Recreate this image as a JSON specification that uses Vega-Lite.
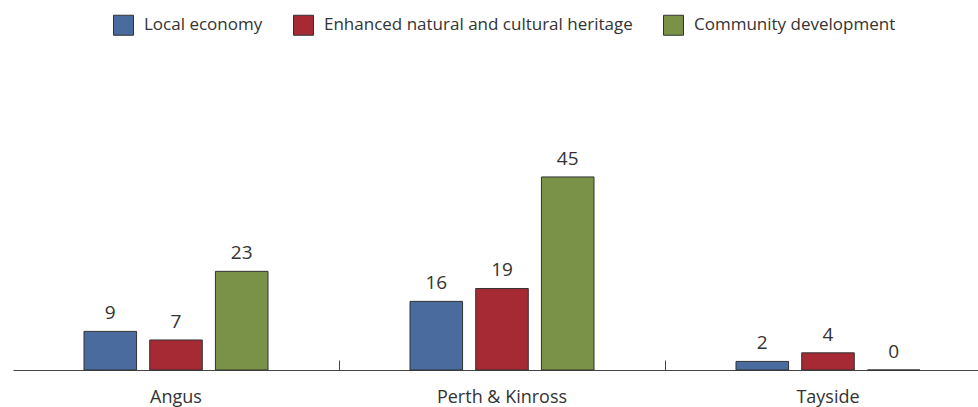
{
  "$schema": "https://vega.github.io/schema/vega-lite/v6.json",
  "autosize": "none",
  "width": 965,
  "height": 214.5,
  "padding": {"left": 13, "top": 155.5, "right": 0, "bottom": 37},
  "background": "white",
  "config": {
    "view": {"stroke": null},
    "font": "Open Sans",
    "text": {"font": "Open Sans"}
  },
  "data": {
    "values": [
      {"region": "Angus", "category": "Local economy", "value": 9},
      {"region": "Angus", "category": "Enhanced natural and cultural heritage", "value": 7},
      {"region": "Angus", "category": "Community development", "value": 23},
      {"region": "Perth & Kinross", "category": "Local economy", "value": 16},
      {"region": "Perth & Kinross", "category": "Enhanced natural and cultural heritage", "value": 19},
      {"region": "Perth & Kinross", "category": "Community development", "value": 45},
      {"region": "Tayside", "category": "Local economy", "value": 2},
      {"region": "Tayside", "category": "Enhanced natural and cultural heritage", "value": 4},
      {"region": "Tayside", "category": "Community development", "value": 0}
    ]
  },
  "encoding": {
    "x": {
      "field": "region",
      "type": "nominal",
      "sort": ["Angus", "Perth & Kinross", "Tayside"],
      "scale": {"range": [0, 978], "paddingInner": 0, "paddingOuter": 0},
      "axis": {
        "title": null,
        "labelAngle": 0,
        "labelFont": "Open Sans",
        "labelFontSize": 18,
        "labelColor": "#333333",
        "labelPadding": 28,
        "domainColor": "#444444",
        "domainWidth": 1,
        "tickColor": "#444444",
        "tickSize": -10,
        "bandPosition": 0,
        "tickOpacity": {"condition": {"test": "datum.value == 'Angus'", "value": 0}, "value": 1}
      }
    },
    "xOffset": {
      "field": "category",
      "type": "nominal",
      "sort": ["Local economy", "Enhanced natural and cultural heritage", "Community development"],
      "scale": {"range": [71, 255], "paddingInner": 0.2, "paddingOuter": 0}
    },
    "y": {
      "field": "value",
      "type": "quantitative",
      "scale": {"domain": [0, 50]},
      "axis": null
    }
  },
  "layer": [
    {
      "mark": {"type": "bar", "stroke": "#333333", "strokeWidth": 1},
      "encoding": {
        "color": {
          "field": "category",
          "type": "nominal",
          "sort": ["Local economy", "Enhanced natural and cultural heritage", "Community development"],
          "scale": {
            "domain": ["Local economy", "Enhanced natural and cultural heritage", "Community development"],
            "range": ["#4a6b9e", "#a52a33", "#7a9148"]
          },
          "legend": {
            "title": null,
            "orient": "none",
            "direction": "horizontal",
            "legendX": 100,
            "legendY": -141,
            "padding": 0,
            "symbolType": "square",
            "symbolSize": 400,
            "symbolStrokeColor": "#333333",
            "symbolStrokeWidth": 1,
            "labelFont": "Open Sans",
            "labelFontSize": 17,
            "labelColor": "#333333",
            "labelOffset": 10,
            "columnPadding": 28,
            "labelLimit": 400
          }
        }
      }
    },
    {
      "mark": {"type": "text", "baseline": "bottom", "dy": -8, "font": "Open Sans", "fontSize": 19, "color": "#333333"},
      "encoding": {
        "text": {"field": "value", "type": "quantitative"}
      }
    }
  ]
}
